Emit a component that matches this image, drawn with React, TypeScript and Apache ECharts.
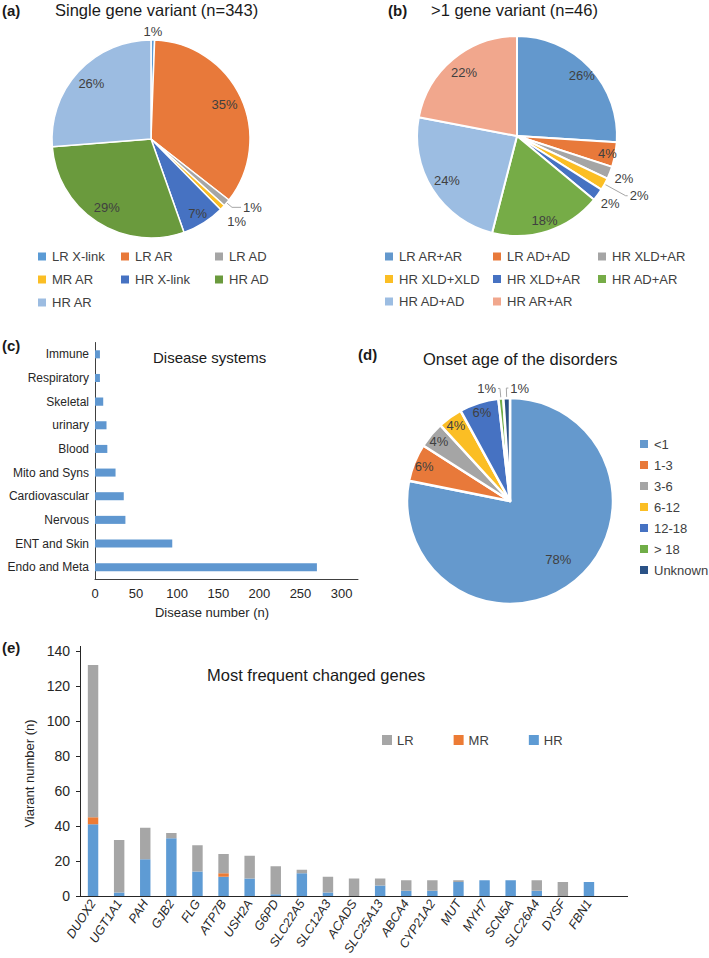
import React, { useEffect, useRef } from 'react';
import * as echarts from 'echarts';

const FONT = '"Liberation Sans", Arial, Helvetica, sans-serif';
const TEXT = '#404040';
const DARK = '#1a1a1a';

// (a) Single gene variant (n=343)
const singleNames = ['LR X-link', 'LR AR', 'LR AD', 'MR AR', 'HR X-link', 'HR AD', 'HR AR'];
const singleValues = [2, 120, 4, 3, 24, 100, 90];
const singleColors = ['#5B9BD5', '#E8793A', '#A5A5A5', '#FBBE24', '#4672C2', '#6A9A3D', '#9CBCE1'];

// (b) >1 gene variant (n=46)
const multiNames = ['LR AR+AR', 'LR AD+AD', 'HR XLD+AR', 'HR XLD+XLD', 'HR XLD+AR #2', 'HR AD+AR', 'HR AD+AD', 'HR AR+AR'];
const multiValues = [26, 4, 2, 2, 2, 18, 24, 22];
const multiColors = ['#6398CD', '#E8793A', '#A5A5A5', '#FBBE24', '#4672C2', '#76AC47', '#9CBDE2', '#F1A78D'];

// (c) Disease systems
const systemNames = ['Immune', 'Respiratory', 'Skeletal', 'urinary', 'Blood', 'Mito and Syns', 'Cardiovascular', 'Nervous', 'ENT and Skin', 'Endo and Meta'];
const systemValues = [6, 6, 10, 14, 15, 25, 35, 37, 94, 270];
const systemTicks = [0, 50, 100, 150, 200, 250, 300];

// (d) Onset age of the disorders
const onsetNames = ['<1', '1-3', '3-6', '6-12', '12-18', '> 18', 'Unknown'];
const onsetValues = [304, 23, 16, 15, 24, 3, 4];
const onsetColors = ['#6599CD', '#E8793A', '#A5A5A5', '#FBBE24', '#4672C2', '#70AD47', '#2A5286'];

// (e) Most frequent changed genes
const geneNames = ['DUOX2', 'UGT1A1', 'PAH', 'GJB2', 'FLG', 'ATP7B', 'USH2A', 'G6PD', 'SLC22A5', 'SLC12A3', 'ACADS', 'SLC25A13', 'ABCA4', 'CYP21A2', 'MUT', 'MYH7', 'SCN5A', 'SLC26A4', 'DYSF', 'FBN1'];
const hrValues = [41, 2, 21, 33, 14, 11, 10, 1, 13, 2, 0, 6, 3, 3, 8, 9, 9, 3, 0, 8];
const mrValues = [4, 0, 0, 0, 0, 2, 0, 0, 0, 0, 0, 0, 0, 0, 0, 0, 0, 0, 0, 0];
const lrValues = [87, 30, 18, 3, 15, 11, 13, 16, 2, 9, 10, 4, 6, 6, 1, 0, 0, 6, 8, 0];
const riskNames = ['LR', 'MR', 'HR'];
const riskColors = ['#A6A6A6', '#EC7B35', '#5E9BD4'];

const pct = (p: any) => Math.round(p.percent) + '%';

type Spec = { i: number; f?: number; len?: number; len2?: number; mirror?: boolean };

function buildPie(names: string[], values: number[], colors: string[], center: number[], R: number, border: number, specs: Spec[]) {
  const lineSpec = new Map<number, Spec>();
  specs.forEach((s) => { if (s.len != null) lineSpec.set(s.i, s); });
  const mirrorIdx = specs.filter((s) => s.mirror).map((s) => s.i);
  const labelBase = { color: TEXT, fontSize: 13, fontFamily: FONT, formatter: pct };
  const main: any = {
    type: 'pie', center, radius: [0, R], startAngle: 90, clockwise: true, avoidLabelOverlap: false,
    silent: true, emphasis: { disabled: true },
    itemStyle: { borderColor: '#ffffff', borderWidth: border },
    label: { show: false }, labelLine: { show: false },
    labelLayout: { hideOverlap: false },
    data: names.map((name, i) => {
      const d: any = { name, value: values[i], itemStyle: { color: colors[i] } };
      const s = lineSpec.get(i);
      if (s) {
        d.label = { ...labelBase, show: true, position: 'outside', distanceToLabelLine: 2 };
        d.labelLine = { show: true, length: s.len, length2: s.len2, smooth: false, lineStyle: { color: '#a6a6a6', width: 1 } };
      }
      return d;
    }),
  };
  if (mirrorIdx.length) {
    main.labelLayout = (p: any) => {
      if (mirrorIdx.indexOf(p.dataIndex) < 0 || !p.labelLinePoints) return { hideOverlap: false };
      const pts = p.labelLinePoints;
      const p0 = pts[0], p1 = pts[1], p2 = pts[2];
      const nx = p1[0] + Math.abs(p2[0] - p1[0]);
      return { hideOverlap: false, x: nx + 2, y: p2[1], align: 'left', verticalAlign: 'middle', labelLinePoints: [p0, p1, [nx, p2[1]]] };
    };
  }
  const fracs = Array.from(new Set(specs.filter((s) => s.f != null).map((s) => s.f as number)));
  const overlays = fracs.map((f) => {
    const mid = f * R - 3; // ECharts pushes inside labels 3px outward
    return {
      type: 'pie', center, radius: [mid - 1, mid + 1], startAngle: 90, clockwise: true,
      avoidLabelOverlap: false, silent: true, emphasis: { disabled: true },
      labelLayout: { hideOverlap: false },
      itemStyle: { color: 'rgba(0,0,0,0)', borderWidth: 0 },
      labelLine: { show: false },
      data: names.map((name, i) => ({
        name, value: values[i],
        label: specs.some((s) => s.i === i && s.f === f) ? { ...labelBase, show: true, position: 'inside' } : { show: false },
      })),
    };
  });
  return [main, ...overlays];
}

const legendText = { color: TEXT, fontSize: 13, fontFamily: FONT, lineHeight: 13 };
function legendCol(data: string[], left: number, top: number, gap: number, orient = 'vertical') {
  return {
    data, left, top, orient, itemGap: gap, itemWidth: 10, itemHeight: 10, icon: 'rect', padding: 0,
    selectedMode: false, textStyle: legendText,
    formatter: (n: string) => n.replace(' #2', ''),
  };
}

function title(text: string, left: number, top: number, size: number, bold = false) {
  return {
    text, left, top, padding: 0,
    textStyle: { fontSize: size, fontWeight: bold ? 'bold' : 'normal', color: DARK, fontFamily: FONT, lineHeight: size + 3 },
  };
}

export default function App() {
  const ref = useRef<HTMLDivElement>(null);
  useEffect(() => {
    if (!ref.current) return;
    const chart = echarts.init(ref.current, undefined, { renderer: 'svg' });

    const pieA = buildPie(singleNames, singleValues, singleColors, [151, 139], 99, 1.5, [
      { i: 0, f: 1.085 }, { i: 1, f: 0.82 }, { i: 2, len: 7, len2: 9 }, { i: 3, f: 1.2 },
      { i: 4, f: 0.89 }, { i: 5, f: 0.82 }, { i: 6, f: 0.82 },
    ]);
    const pieB = buildPie(multiNames, multiValues, multiColors, [517, 136], 100, 2, [
      { i: 0, f: 0.89 }, { i: 1, f: 0.92 }, { i: 2, f: 1.15 }, { i: 3, len: 24, len2: 2 },
      { i: 4, f: 1.15 }, { i: 5, f: 0.89 }, { i: 6, f: 0.83 }, { i: 7, f: 0.83 },
    ]);
    const pieD = buildPie(onsetNames, onsetValues, onsetColors, [510, 501], 103, 2.5, [
      { i: 0, f: 0.74 }, { i: 1, f: 0.9 }, { i: 2, f: 0.9 }, { i: 3, f: 0.9 }, { i: 4, f: 0.9 },
      { i: 5, len: 10, len2: 2 }, { i: 6, len: 10, len2: 2, mirror: true },
    ]);

    const option: any = {
      animation: false,
      textStyle: { fontFamily: FONT },
      title: [
        title('(a)', 2, 1, 15, true),
        title('Single gene variant (n=343)', 55, 0, 16.5),
        title('(b)', 388, 1, 15, true),
        title('>1 gene variant (n=46)', 431, 0, 16.5),
        title('(c)', 2, 336, 15, true),
        title('Disease systems', 153, 348, 15),
        title('(d)', 358, 345, 15, true),
        title('Onset age of the disorders', 423, 349, 16.5),
        title('(e)', 2, 638, 15, true),
        title('Most frequent changed genes', 207, 665, 16.5),
      ],
      legend: [
        legendCol(['LR X-link', 'MR AR', 'HR AR'], 36, 250, 10),
        legendCol(['LR AR', 'HR X-link'], 119, 250, 10),
        legendCol(['LR AD', 'HR AD'], 213, 250, 10),
        legendCol(['LR AR+AR', 'HR XLD+XLD', 'HR AD+AD'], 383, 250, 9.5),
        legendCol(['LR AD+AD', 'HR XLD+AR #2', 'HR AR+AR'], 491, 250, 9.5),
        legendCol(['HR XLD+AR', 'HR AD+AR'], 596, 250, 9.5),
        legendCol(onsetNames, 638, 437.5, 8),
        legendCol(riskNames, 382, 733.5, 40, 'horizontal'),
      ],
      grid: [
        { left: 95, top: 342.5, width: 263, height: 236.5 },
        { left: 80, top: 651, width: 522, height: 245 },
      ],
      xAxis: [
        {
          gridIndex: 0, type: 'value', min: 0, max: 320, interval: 50,
          axisLine: { show: true, lineStyle: { color: '#404040', width: 1 } },
          axisTick: { show: false }, splitLine: { show: false },
          axisLabel: {
            color: '#262626', fontSize: 13, margin: 8, fontFamily: FONT,
            formatter: (v: number) => (systemTicks.indexOf(v) >= 0 ? String(v) : ''),
          },
          name: 'Disease number (n)', nameLocation: 'middle', nameGap: 27,
          nameTextStyle: { color: '#262626', fontSize: 13, fontFamily: FONT, padding: [0, 29, 0, 0] },
        },
        {
          gridIndex: 1, type: 'category', data: geneNames,
          axisLine: { show: true, lineStyle: { color: '#262626', width: 1 } },
          axisTick: { show: false },
          axisLabel: { interval: 0, rotate: 57, fontStyle: 'italic', fontSize: 12.5, margin: 5, color: '#262626', fontFamily: FONT },
        },
      ],
      yAxis: [
        {
          gridIndex: 0, type: 'category', data: systemNames, inverse: true,
          axisLine: { show: true, lineStyle: { color: '#404040', width: 1 } },
          axisTick: { show: false },
          axisLabel: { color: '#262626', fontSize: 12, margin: 6, fontFamily: FONT },
        },
        {
          gridIndex: 1, type: 'value', min: 0, max: 140, interval: 20,
          axisLine: { show: true, lineStyle: { color: '#262626', width: 1 } },
          axisTick: { show: true, length: 4, lineStyle: { color: '#262626' } },
          splitLine: { show: false },
          axisLabel: { color: '#262626', fontSize: 14, margin: 10, fontFamily: FONT },
          name: 'Viarant number (n)', nameLocation: 'middle', nameRotate: 90, nameGap: 41,
          nameTextStyle: { color: '#262626', fontSize: 13, fontFamily: FONT },
        },
      ],
      series: [
        ...pieA,
        ...pieB,
        {
          type: 'bar', xAxisIndex: 0, yAxisIndex: 0, data: systemValues, barWidth: '34%',
          itemStyle: { color: '#5F97D0' }, silent: true,
        },
        ...pieD,
        { name: 'HR', type: 'bar', stack: 'g', xAxisIndex: 1, yAxisIndex: 1, data: hrValues, barWidth: '40%', itemStyle: { color: riskColors[2] }, silent: true },
        { name: 'MR', type: 'bar', stack: 'g', xAxisIndex: 1, yAxisIndex: 1, data: mrValues, barWidth: '40%', itemStyle: { color: riskColors[1] }, silent: true },
        { name: 'LR', type: 'bar', stack: 'g', xAxisIndex: 1, yAxisIndex: 1, data: lrValues, barWidth: '40%', itemStyle: { color: riskColors[0] }, silent: true },
      ],
      graphic: [
        { type: 'line', shape: { x1: 602, y1: 896.5, x2: 628, y2: 896.5 }, style: { stroke: '#262626', lineWidth: 1 }, silent: true },
        { type: 'line', shape: { x1: 80.5, y1: 646, x2: 80.5, y2: 651 }, style: { stroke: '#262626', lineWidth: 1 }, silent: true },
      ],
    };
    chart.setOption(option);
    return () => chart.dispose();
  }, []);
  return <div ref={ref} style={{ position: 'absolute', left: 0, top: 0, width: 709, height: 958 }} />;
}
